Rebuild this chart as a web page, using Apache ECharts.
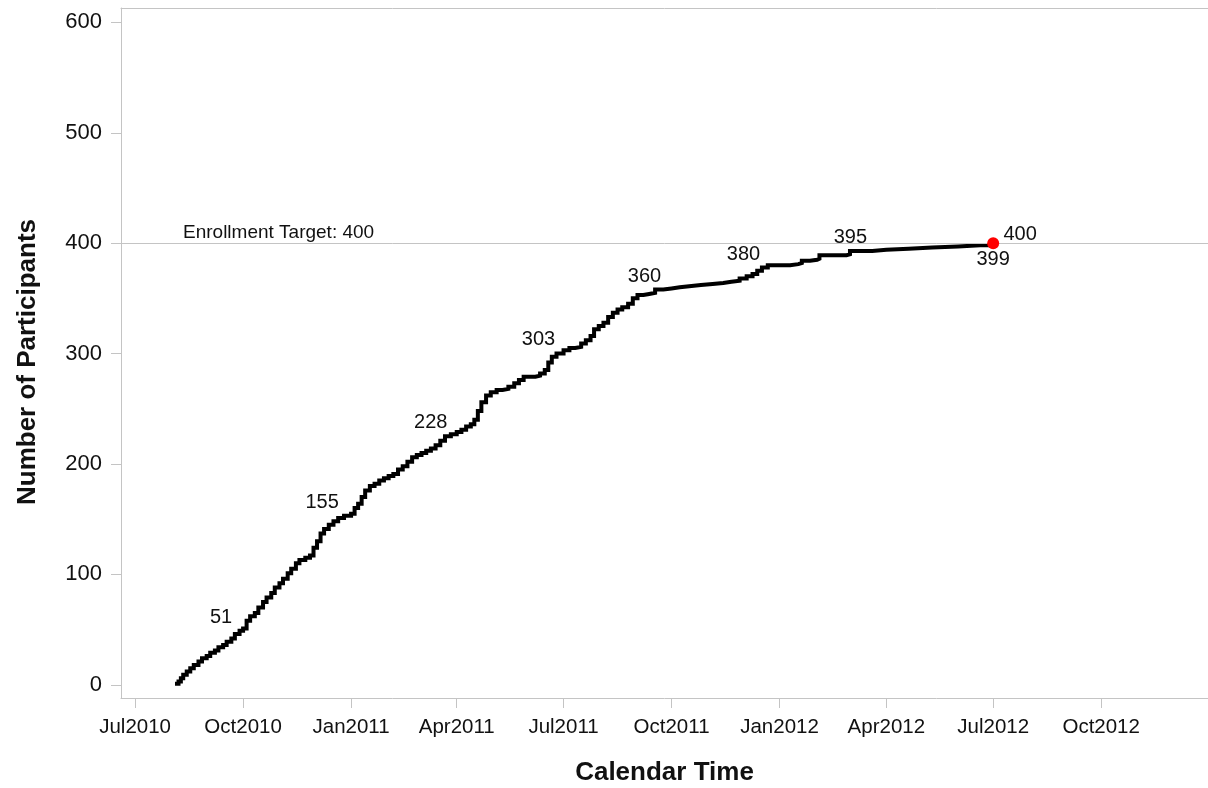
<!DOCTYPE html>
<html>
<head>
<meta charset="utf-8">
<script src="https://cdn.jsdelivr.net/npm/echarts@6/dist/echarts.min.js"></script>
<style>
html,body{margin:0;padding:0;background:#fff;}
#chart{width:1208px;height:788px;}
</style>
</head>
<body>
<div id="chart"></div>
<script>
// ---- Data ----
const enrollDates = [
 '2010-08-04','2010-08-07','2010-08-09','2010-08-11','2010-08-14','2010-08-17','2010-08-20','2010-08-24',
 '2010-08-27','2010-08-31','2010-09-03','2010-09-07','2010-09-10','2010-09-14','2010-09-17','2010-09-21',
 '2010-09-24','2010-09-28','2010-10-01','2010-10-04','2010-10-07','2010-10-11','2010-10-14','2010-10-18',
 '2010-10-21','2010-10-25','2010-10-28','2010-11-01','2010-11-04','2010-11-08','2010-11-11','2010-11-15',
 '2010-11-18','2010-11-23','2010-11-27','2010-11-30','2010-12-03','2010-12-06','2010-12-09','2010-12-13',
 '2010-12-17','2010-12-21','2010-12-26','2011-01-01','2011-01-04','2011-01-07','2011-01-10','2011-01-13',
 '2011-01-17','2011-01-21','2011-01-25','2011-01-29','2011-02-02','2011-02-06','2011-02-10','2011-02-14',
 '2011-02-18','2011-02-22','2011-02-26','2011-03-02','2011-03-06','2011-03-10','2011-03-14','2011-03-18',
 '2011-03-22','2011-03-27','2011-04-01','2011-04-05','2011-04-09','2011-04-13','2011-04-16','2011-04-19',
 '2011-04-22','2011-04-26','2011-04-30','2011-05-05','2011-05-10','2011-05-15','2011-05-20','2011-05-24',
 '2011-05-28','2011-06-02','2011-06-07','2011-06-11','2011-06-15','2011-06-18','2011-06-21','2011-06-25',
 '2011-07-01','2011-07-06','2011-07-11','2011-07-16','2011-07-20','2011-07-24','2011-07-27','2011-07-31',
 '2011-08-04','2011-08-08','2011-08-12','2011-08-16','2011-08-20','2011-08-25','2011-08-29','2011-09-02',
 '2011-09-07','2011-09-12','2011-09-17','2011-09-24','2011-10-01','2011-10-08','2011-10-16','2011-10-26',
 '2011-11-05','2011-11-14','2011-11-21','2011-11-28','2011-12-04','2011-12-09','2011-12-13','2011-12-17',
 '2011-12-22','2012-01-01','2012-01-10','2012-01-17','2012-01-20','2012-01-27','2012-02-02','2012-02-04',
 '2012-02-15','2012-02-27','2012-03-01','2012-03-20','2012-04-01','2012-04-20','2012-05-10','2012-06-01',
 '2012-06-20','2012-07-01'
];
const enrollCounts = [
 1,3,6,9,12,15,18,21,
 24,26,29,31,34,36,39,42,
 46,49,51,58,62,65,70,75,
 79,83,88,92,96,101,105,110,
 113,115,117,124,130,137,141,145,
 148,151,153,155,160,164,170,176,
 180,182,185,187,189,191,195,198,
 202,206,208,210,212,214,217,221,
 225,227,229,231,234,236,240,248,
 256,262,265,267,268,270,273,276,
 279,279,280,282,285,292,297,300,
 303,305,306,309,312,316,322,325,
 328,333,337,340,342,345,350,353,
 354,355,358,359,360,361,362,363,
 364,365,366,368,370,372,375,378,
 380,380,381,382,384,385,386,389,
 389,390,393,394,395,396,397,398,
 398,399
];
const annotDates  = ['2010-10-01','2011-01-01','2011-04-01','2011-07-01','2011-10-01','2012-01-01','2012-04-01'];
const annotValues = [51,155,228,303,360,380,395];
const finalDate = '2012-07-01';
const finalValue = 399;
const targetValue = 400;
const targetLabel = 'Enrollment Target: 400';
const xTickDates  = ['2010-07-01','2010-10-01','2011-01-01','2011-04-01','2011-07-01','2011-10-01','2012-01-01','2012-04-01','2012-07-01','2012-10-01'];
const xTickLabels = ['Jul2010','Oct2010','Jan2011','Apr2011','Jul2011','Oct2011','Jan2012','Apr2012','Jul2012','Oct2012'];
const yTickValues = [0,100,200,300,400,500,600];
const xTitle = 'Calendar Time';
const yTitle = 'Number of Participants';

// ---- helpers ----
function t(s){ const p = s.split('-').map(Number); return Date.UTC(p[0], p[1]-1, p[2]); }
const xTickTimes = xTickDates.map(t);
const FONT = '"Liberation Sans", Arial, sans-serif';
const AXIS_GRAY = '#c4c4c4';
const TEXT = '#111';

const lineData = enrollDates.map((d,i)=>[t(d), enrollCounts[i]]);
const annotDx = [-22,-29,-26,-25,-27,-36,-36];
const annotData = annotDates.map((d,i)=>({
  value:[t(d), annotValues[i]],
  label:{position:[annotDx[i], -11]}
}));

const chart = echarts.init(document.getElementById('chart'), null, {renderer:'canvas'});
chart.setOption({
  animation:false,
  backgroundColor:'#fff',
  grid:{left:121, right:0, top:8, bottom:90, containLabel:false, outerBoundsMode:'none'},
  xAxis:[{
    type:'value',
    min:t('2010-06-19'),
    max:t('2012-12-31'),
    scale:true,
    name:xTitle,
    nameLocation:'middle',
    nameGap:62,
    nameTextStyle:{fontFamily:FONT, fontSize:26, fontWeight:'bold', color:TEXT},
    axisLine:{show:true, onZero:false, lineStyle:{color:AXIS_GRAY, width:1}},
    axisTick:{show:true, length:10, lineStyle:{color:AXIS_GRAY}, customValues:xTickTimes},
    axisLabel:{
      fontFamily:FONT, fontSize:20.5, color:TEXT, margin:19,
      customValues:xTickTimes,
      formatter:function(v){ const i = xTickTimes.indexOf(v); return i>=0 ? xTickLabels[i] : ''; }
    },
    splitLine:{show:false}
  },{
    type:'value', position:'top', min:0, max:1,
    axisLine:{show:true, onZero:false, lineStyle:{color:AXIS_GRAY, width:1}},
    axisTick:{show:false}, axisLabel:{show:false}, splitLine:{show:false}
  }],
  yAxis:{
    type:'value',
    min:-12, max:613,
    name:yTitle,
    nameLocation:'middle',
    nameGap:80,
    nameRotate:90,
    nameTextStyle:{fontFamily:FONT, fontSize:26, fontWeight:'bold', color:TEXT, padding:[0,18,0,0]},
    axisLine:{show:true, onZero:false, lineStyle:{color:AXIS_GRAY, width:1}},
    axisTick:{show:true, length:10, lineStyle:{color:AXIS_GRAY}, customValues:yTickValues},
    axisLabel:{fontFamily:FONT, fontSize:22, color:TEXT, margin:19, customValues:yTickValues},
    splitLine:{show:false}
  },
  series:[
    {
      type:'line',
      xAxisIndex:0,
      data:lineData,
      step:'end',
      showSymbol:false,
      symbol:'none',
      lineStyle:{color:'#000', width:4, join:'miter'},
      z:3,
      markLine:{
        silent:true,
        symbol:['none','none'],
        lineStyle:{color:AXIS_GRAY, width:1, type:'solid'},
        label:{
          show:true, position:'insideStartTop', formatter:targetLabel,
          fontFamily:FONT, fontSize:19, color:TEXT, distance:[62,1]
        },
        data:[{yAxis:targetValue}]
      }
    },
    {
      type:'scatter',
      data:annotData,
      symbolSize:0,
      silent:true,
      itemStyle:{opacity:1},
      label:{show:true, formatter:p=>String(p.value[1]), align:'center', verticalAlign:'middle',
             fontFamily:FONT, fontSize:20, color:TEXT, opacity:1},
      z:4
    },
    {
      type:'scatter',
      data:[[t(finalDate), finalValue]],
      symbolSize:0,
      silent:true,
      itemStyle:{opacity:1},
      label:{show:true, formatter:p=>String(p.value[1]), position:[0,15], align:'center', verticalAlign:'middle',
             fontFamily:FONT, fontSize:20, color:TEXT, opacity:1},
      z:4
    },
    {
      type:'scatter',
      data:[[t(finalDate), targetValue]],
      symbolSize:12,
      itemStyle:{color:'#ff0000', opacity:1},
      silent:true,
      label:{show:true, formatter:p=>String(p.value[1]), position:[33,-3], align:'center', verticalAlign:'middle',
             fontFamily:FONT, fontSize:20, color:TEXT, opacity:1},
      z:5
    }
  ]
});
</script>
</body>
</html>
